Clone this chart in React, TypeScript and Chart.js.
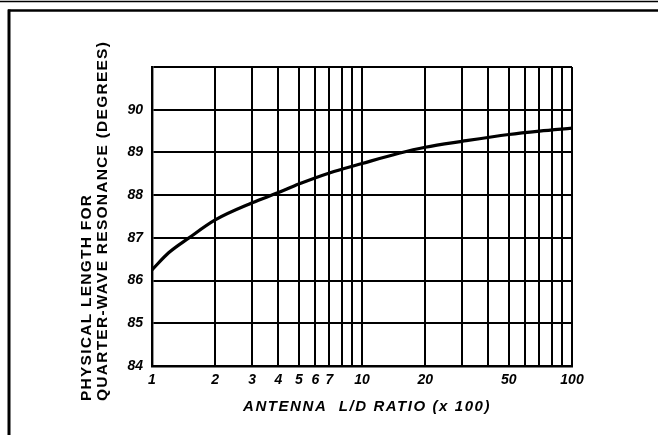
import React, { useEffect, useRef } from 'react';
import { Chart, registerables } from 'chart.js';

Chart.register(...registerables);

// ---- data ----
const ratioValues = [1, 1.2, 1.5, 2, 3, 4, 5, 7, 10, 15, 20, 30, 50, 70, 100];
const lengthValues = [86.25, 86.65, 87.0, 87.42, 87.82, 88.06, 88.26, 88.52, 88.74, 88.98, 89.12, 89.26, 89.42, 89.5, 89.57];
const xGridTicks = [1, 2, 3, 4, 5, 6, 7, 8, 9, 10, 20, 30, 40, 50, 60, 70, 80, 90, 100];
const xTickLabels = [1, 2, 3, 4, 5, 6, 7, 10, 20, 50, 100];
const yTickLabels = [84, 85, 86, 87, 88, 89, 90];
const yMin = 84;
const yMax = 91;
const yTitleLines = ['PHYSICAL LENGTH FOR', 'QUARTER-WAVE RESONANCE (DEGREES)'];
const xTitle = 'ANTENNA  L/D RATIO (x 100)';

const FAMILY = '"Liberation Sans", Arial, sans-serif';

const decorPlugin = {
  id: 'decor',
  afterDraw(chart: any) {
    const ctx = chart.ctx as CanvasRenderingContext2D;
    ctx.save();
    ctx.fillStyle = '#000';
    ctx.strokeStyle = '#000';

    // frame lines
    ctx.lineWidth = 1.5;
    ctx.beginPath();
    ctx.moveTo(0, 1.5);
    ctx.lineTo(658, 1.5);
    ctx.stroke();
    ctx.lineWidth = 2.5;
    ctx.beginPath();
    ctx.moveTo(8, 10.5);
    ctx.lineTo(658, 10.5);
    ctx.stroke();
    ctx.lineWidth = 3;
    ctx.beginPath();
    ctx.moveTo(9, 9.5);
    ctx.lineTo(9, 435);
    ctx.stroke();

    // y title (rotated, start aligned)
    ctx.font = 'bold 15.5px ' + FAMILY;
    (ctx as any).letterSpacing = '0px';
    const w2 = ctx.measureText(yTitleLines[1]).width;
    const spacing = (360 - w2) / yTitleLines[1].length;
    (ctx as any).letterSpacing = spacing.toFixed(2) + 'px';
    ctx.textAlign = 'left';
    ctx.textBaseline = 'middle';
    const lineX = [87, 102.5];
    yTitleLines.forEach((line, i) => {
      ctx.save();
      ctx.translate(lineX[i], 401);
      ctx.rotate(-Math.PI / 2);
      ctx.fillText(line, 0, 0);
      ctx.restore();
    });

    // x title
    ctx.font = 'italic bold 15px ' + FAMILY;
    (ctx as any).letterSpacing = '0px';
    const wx = ctx.measureText(xTitle).width;
    const sx = (248 - wx) / xTitle.length;
    (ctx as any).letterSpacing = sx.toFixed(2) + 'px';
    ctx.textAlign = 'left';
    ctx.fillText(xTitle, 243, 407);
    ctx.restore();
  },
};

export default function App() {
  const canvasRef = useRef<HTMLCanvasElement | null>(null);

  useEffect(() => {
    if (!canvasRef.current) return;
    const tickFont = { family: FAMILY, size: 14, style: 'italic' as const, weight: 'bold' as const };
    const chart = new Chart(canvasRef.current, {
      type: 'line',
      data: {
        datasets: [
          {
            data: ratioValues.map((x, i) => ({ x, y: lengthValues[i] })),
            borderColor: '#000',
            borderWidth: 3.2,
            pointRadius: 0,
            cubicInterpolationMode: 'monotone',
            fill: false,
          },
        ],
      },
      options: {
        responsive: false,
        animation: false,
        devicePixelRatio: 1,
        layout: { padding: { top: 67, right: 86, left: 0, bottom: 0 } },
        plugins: {
          legend: { display: false },
          tooltip: { enabled: false },
          title: { display: false },
        },
        scales: {
          x: {
            type: 'logarithmic',
            min: 1,
            max: 100,
            afterBuildTicks: (scale: any) => {
              scale.ticks = xGridTicks.map((v) => ({ value: v }));
            },
            afterFit: (scale: any) => {
              scale.height = 69;
            },
            ticks: {
              autoSkip: false,
              maxRotation: 0,
              minRotation: 0,
              padding: 6,
              color: '#000',
              font: tickFont,
              callback: (v: any) => (xTickLabels.includes(Number(v)) ? String(v) : ''),
            },
            grid: { color: '#000', lineWidth: 2, drawTicks: false },
            border: { color: '#000', width: 2.4 },
          },
          y: {
            type: 'linear',
            min: yMin,
            max: yMax,
            afterFit: (scale: any) => {
              scale.width = 152;
            },
            ticks: {
              stepSize: 1,
              padding: 9,
              color: '#000',
              font: tickFont,
              callback: (v: any) => (yTickLabels.includes(Number(v)) ? String(v) : ''),
            },
            grid: { color: '#000', lineWidth: 2, drawTicks: false },
            border: { color: '#000', width: 2.4 },
          },
        },
      },
      plugins: [decorPlugin],
    });
    return () => chart.destroy();
  }, []);

  return (
    <div style={{ position: 'fixed', left: 0, top: 0, width: 658, height: 435, background: '#fff' }}>
      <canvas ref={canvasRef} width={658} height={435} style={{ display: 'block' }} />
    </div>
  );
}
